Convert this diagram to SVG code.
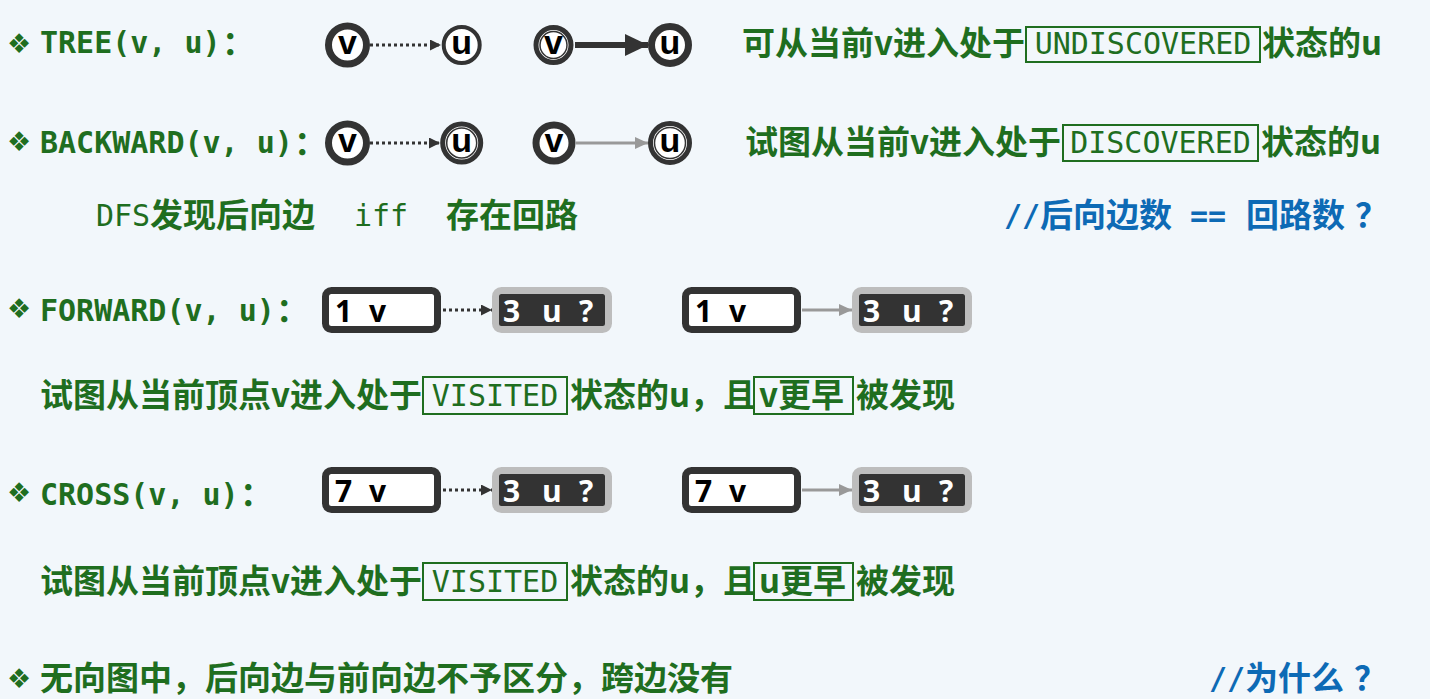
<svg xmlns="http://www.w3.org/2000/svg" width="1430" height="699" viewBox="0 0 1430 699">
<style>
.g{fill:#1f6e1f}
.bl{fill:#0d6ab5}
.cjk{font-family:"Noto Sans CJK SC","Noto Sans",sans-serif;font-weight:bold;font-size:33px}
.mono{font-family:"DejaVu Sans Mono","Liberation Mono",monospace;font-size:30px}
.monob{font-family:"DejaVu Sans Mono","Liberation Mono",monospace;font-size:30px;font-weight:bold}
.bul{font-family:"DejaVu Sans",sans-serif;font-size:27px}
.tag{fill:none;stroke:#1f6e1f;stroke-width:2}
.thick{fill:#fff;stroke:#333;stroke-width:7}
.thin{fill:#fff;stroke:#333;stroke-width:4}
.dbl{fill:#fff;stroke:#333;stroke-width:5}
.dbli{fill:#fff;stroke:#333;stroke-width:1.5}
.cl{font-family:"Liberation Sans",Arial,sans-serif;font-weight:bold;font-size:34px;fill:#000;text-anchor:middle}
.bt{font-family:"Open Sans","Liberation Sans",sans-serif;font-weight:bold;font-size:30px}
.dot{stroke:#333;stroke-width:3;stroke-dasharray:3 3;fill:none}
.gray{stroke:#999;stroke-width:3;fill:none}
.big{stroke:#333;stroke-width:6;fill:none}
</style>
<defs>
<marker id="hd" markerUnits="userSpaceOnUse" markerWidth="11" markerHeight="11" refX="11" refY="5.5" orient="auto"><path d="M0,0 L11,5.5 L0,11 z" fill="#333"/></marker>
<marker id="hg" markerUnits="userSpaceOnUse" markerWidth="13" markerHeight="12" refX="13" refY="6" orient="auto"><path d="M0,0 L13,6 L0,12 z" fill="#999"/></marker>
<marker id="hb" markerUnits="userSpaceOnUse" markerWidth="23" markerHeight="22" refX="23" refY="11" orient="auto"><path d="M0,0 L23,11 L0,22 z" fill="#333"/></marker>
</defs>
<rect width="1430" height="699" fill="#f2f7fb"/>

<!-- Row 1 TREE -->
<g id="row-tree">
<text class="bul g" x="7" y="53">❖</text>
<text class="monob g" x="40" y="53">TREE(v, u)<tspan class="cjk" x="222" y="55">：</tspan></text>
<text class="cjk g" x="742" y="55">可从当前v进入处于</text>
<rect class="tag" x="1026" y="27" width="234" height="35"/>
<text class="mono g" x="1143" y="54" text-anchor="middle">UNDISCOVERED</text>
<text class="cjk g" x="1262" y="55">状态的u</text>
</g>
<g id="t1-v"><circle class="thick" cx="347.5" cy="45" r="19"/><text class="cl" x="347.5" y="54">v</text></g>
<g id="t1-u"><circle class="thin" cx="461.7" cy="45" r="18"/><text class="cl" x="461.7" y="54">u</text></g>
<g id="t2-v"><circle class="dbl" cx="553.5" cy="45" r="17.5"/><circle class="dbli" cx="553.5" cy="45" r="13.5"/><text class="cl" x="553.5" y="54">v</text></g>
<g id="t2-u"><circle class="thick" cx="670" cy="45" r="18.5"/><text class="cl" x="670" y="54">u</text></g>

<!-- Row 2 BACKWARD -->
<g id="row-backward">
<text class="bul g" x="7" y="151">❖</text>
<text class="monob g" x="40" y="153">BACKWARD(v, u)<tspan class="cjk" x="294" y="155">：</tspan></text>
<text class="cjk g" x="745" y="154">试图从当前v进入处于</text>
<rect class="tag" x="1063" y="125" width="195" height="36"/>
<text class="mono g" x="1160.5" y="153" text-anchor="middle">DISCOVERED</text>
<text class="cjk g" x="1261" y="154">状态的u</text>
</g>
<g id="b1-v"><circle class="thick" cx="347.5" cy="143" r="19"/><text class="cl" x="347.5" y="152">v</text></g>
<g id="b1-u"><circle class="dbl" cx="461.7" cy="143" r="19"/><circle class="dbli" cx="461.7" cy="143" r="15"/><text class="cl" x="461.7" y="152">u</text></g>
<g id="b2-v"><circle class="thick" cx="554" cy="143" r="18"/><text class="cl" x="554" y="152">v</text></g>
<g id="b2-u"><circle class="dbl" cx="670" cy="143" r="19.5"/><circle class="dbli" cx="670" cy="143" r="15.5"/><text class="cl" x="670" y="152">u</text></g>

<!-- Row 3 -->
<g id="row-dfs">
<text class="mono g" x="96" y="226">DFS</text>
<text class="cjk g" x="150" y="227">发现后向边</text>
<text class="mono g" x="354" y="226">iff</text>
<text class="cjk g" x="446" y="227">存在回路</text>
<text class="monob bl" x="1004" y="226">//</text>
<text class="cjk bl" x="1040" y="227">后向边数</text>
<text class="monob bl" x="1190" y="226">==</text>
<text class="cjk bl" x="1246" y="227">回路数</text>
<text class="cjk bl" x="1355" y="227">？</text>
</g>

<!-- Row 4 FORWARD -->
<g id="row-forward">
<text class="bul g" x="7" y="318">❖</text>
<text class="monob g" x="40" y="321">FORWARD(v, u)<tspan class="cjk" x="276" y="322">：</tspan></text>
</g>
<g id="f1-v"><rect x="325.5" y="290.5" width="112" height="39" rx="6" fill="#fff" stroke="#333" stroke-width="7"/><text class="bt" y="322" fill="#000"><tspan x="335">1</tspan><tspan x="369">v</tspan></text></g>
<g id="f1-u"><rect x="495.5" y="290.5" width="113" height="39" rx="6" fill="#333" stroke="#bdbdbd" stroke-width="7"/><text class="bt" y="322" fill="#fff"><tspan x="503">3</tspan><tspan x="542">u</tspan><tspan x="579">?</tspan></text></g>
<g id="f2-v"><rect x="685.5" y="290.5" width="112" height="39" rx="6" fill="#fff" stroke="#333" stroke-width="7"/><text class="bt" y="322" fill="#000"><tspan x="695">1</tspan><tspan x="729">v</tspan></text></g>
<g id="f2-u"><rect x="855.5" y="290.5" width="113" height="39" rx="6" fill="#333" stroke="#bdbdbd" stroke-width="7"/><text class="bt" y="322" fill="#fff"><tspan x="863">3</tspan><tspan x="902">u</tspan><tspan x="939">?</tspan></text></g>

<!-- Row 5 -->
<g id="row-forward-desc">
<text class="cjk g" x="40" y="407">试图从当前顶点v进入处于</text>
<rect class="tag" x="423" y="377" width="144" height="37"/>
<text class="mono g" x="495" y="406" text-anchor="middle">VISITED</text>
<text class="cjk g" x="570" y="407">状态的u，且</text>
<rect class="tag" x="754" y="377" width="99" height="37"/>
<text class="cjk g" x="759" y="407">v更早</text>
<text class="cjk g" x="856" y="407">被发现</text>
</g>

<!-- Row 6 CROSS -->
<g id="row-cross">
<text class="bul g" x="7" y="502">❖</text>
<text class="monob g" x="40" y="505">CROSS(v, u)<tspan class="cjk" x="240" y="506">：</tspan></text>
</g>
<g id="c1-v"><rect x="325.5" y="470.5" width="112" height="39" rx="6" fill="#fff" stroke="#333" stroke-width="7"/><text class="bt" y="502" fill="#000"><tspan x="335">7</tspan><tspan x="369">v</tspan></text></g>
<g id="c1-u"><rect x="495.5" y="470.5" width="113" height="39" rx="6" fill="#333" stroke="#bdbdbd" stroke-width="7"/><text class="bt" y="502" fill="#fff"><tspan x="503">3</tspan><tspan x="542">u</tspan><tspan x="579">?</tspan></text></g>
<g id="c2-v"><rect x="685.5" y="470.5" width="112" height="39" rx="6" fill="#fff" stroke="#333" stroke-width="7"/><text class="bt" y="502" fill="#000"><tspan x="695">7</tspan><tspan x="729">v</tspan></text></g>
<g id="c2-u"><rect x="855.5" y="470.5" width="113" height="39" rx="6" fill="#333" stroke="#bdbdbd" stroke-width="7"/><text class="bt" y="502" fill="#fff"><tspan x="863">3</tspan><tspan x="902">u</tspan><tspan x="939">?</tspan></text></g>

<!-- Row 7 -->
<g id="row-cross-desc">
<text class="cjk g" x="40" y="593">试图从当前顶点v进入处于</text>
<rect class="tag" x="423" y="563" width="144" height="37"/>
<text class="mono g" x="495" y="592" text-anchor="middle">VISITED</text>
<text class="cjk g" x="570" y="593">状态的u，且</text>
<rect class="tag" x="754" y="563" width="99" height="37"/>
<text class="cjk g" x="759" y="593">u更早</text>
<text class="cjk g" x="856" y="593">被发现</text>
</g>

<!-- Row 8 -->
<g id="row-undirected">
<text class="bul g" x="7" y="688">❖</text>
<text class="cjk g" x="40" y="690">无向图中，后向边与前向边不予区分，跨边没有</text>
<text class="monob bl" x="1209" y="689">//</text>
<text class="cjk bl" x="1245" y="690">为什么</text>
<text class="cjk bl" x="1354" y="690">？</text>
</g>

<!-- connectors -->
<g id="connectors">
<line class="dot" x1="370" y1="45" x2="441" y2="45" marker-end="url(#hd)"/>
<line class="big" x1="575" y1="45" x2="648" y2="45" marker-end="url(#hb)"/>
<line class="dot" x1="370" y1="143" x2="440" y2="143" marker-end="url(#hd)"/>
<line class="gray" x1="576" y1="143" x2="648" y2="143" marker-end="url(#hg)"/>
<line class="dot" x1="443" y1="310" x2="492" y2="310" marker-end="url(#hd)"/>
<line class="gray" x1="802" y1="310" x2="852" y2="310" marker-end="url(#hg)"/>
<line class="dot" x1="443" y1="490" x2="492" y2="490" marker-end="url(#hd)"/>
<line class="gray" x1="802" y1="490" x2="852" y2="490" marker-end="url(#hg)"/>
</g>
</svg>
